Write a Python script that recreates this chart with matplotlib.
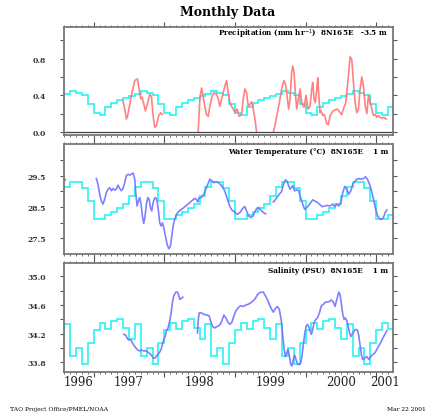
import numpy as np
import matplotlib
matplotlib.use("Agg")
import matplotlib.pyplot as plt
from matplotlib.ticker import MultipleLocator, FixedLocator

nan = float("nan")

# --- monthly climatologies (Jan..Dec), repeated every year ---
precip_clim = [0.21, 0.18, 0.27, 0.32, 0.35, 0.37, 0.39, 0.41, 0.45, 0.43, 0.40, 0.31]
temp_clim = [28.12, 28.12, 28.23, 28.34, 28.45, 28.60, 28.85, 29.14, 29.29, 29.30, 29.10, 28.70]
salt_clim = [34.25, 34.35, 34.27, 34.38, 34.41, 34.28, 34.12, 34.33, 33.89, 34.00, 33.78, 34.07]

# --- observed precipitation (mm/hr), decimal years ---
precip_t = [1997.416, 1997.440, 1997.464, 1997.482, 1997.511, 1997.543, 1997.582, 1997.620,
            1997.643, 1997.667, 1997.685, 1997.709, 1997.733, 1997.762, 1997.794, 1997.818,
            1997.841, 1997.865, 1997.889, 1997.922, 1997.950, 1997.969, nan,
            1998.480, 1998.504, 1998.528, 1998.551, 1998.574, 1998.598, 1998.622, 1998.645,
            1998.678, 1998.707, 1998.740, 1998.764, 1998.787, 1998.811, 1998.835, 1998.858,
            1998.882, 1998.905, 1998.929, 1998.953, 1998.976, 1999.000, 1999.033, 1999.061,
            1999.095, 1999.118, 1999.142, 1999.165, 1999.189, 1999.213, 1999.236, 1999.260,
            1999.284, 1999.307, nan,
            1999.544, 1999.567, 1999.591, 1999.629, 1999.662, 1999.695, 1999.723, 1999.742,
            1999.761, 1999.780, 1999.804, 1999.818, 1999.837, 1999.856, 1999.875, 1999.898,
            1999.922, 1999.946, 1999.979, 2000.007, 2000.035, 2000.064, 2000.088, 2000.102,
            2000.121, 2000.139, 2000.159, 2000.173, 2000.191, 2000.206, 2000.220, 2000.244,
            2000.267, 2000.301, 2000.323, 2000.348, 2000.372, 2000.394, 2000.443, 2000.465,
            2000.489, 2000.513, 2000.536, 2000.570, 2000.607, 2000.631, 2000.655, 2000.678,
            2000.702, 2000.726, 2000.749, 2000.773, 2000.797, 2000.820, 2000.844, 2000.868,
            2000.891, 2000.915, 2000.939, 2000.962, 2000.986, 2001.010, 2001.033, 2001.057,
            2001.081, 2001.110, 2001.140]
precip_v = [0.34, 0.25, 0.14, 0.18, 0.30, 0.43, 0.56, 0.58,
            0.47, 0.36, 0.38, 0.31, 0.23, 0.31, 0.41, 0.39,
            0.18, 0.05, 0.07, 0.18, 0.21, 0.19, nan,
            0.00, 0.36, 0.48, 0.39, 0.28, 0.19, 0.17, 0.28,
            0.39, 0.43, 0.41, 0.36, 0.28, 0.36, 0.43, 0.50,
            0.56, 0.43, 0.32, 0.28, 0.25, 0.21, 0.25, 0.17,
            0.19, 0.36, 0.47, 0.43, 0.28, 0.30, 0.33, 0.25,
            0.14, 0.00, nan,
            0.00, 0.07, 0.17, 0.32, 0.47, 0.56, 0.50, 0.36,
            0.25, 0.36, 0.65, 0.72, 0.65, 0.43, 0.25, 0.36,
            0.47, 0.32, 0.27, 0.40, 0.25, 0.28, 0.47, 0.54,
            0.36, 0.32, 0.47, 0.59, 0.36, 0.21, 0.23, 0.18,
            0.19, 0.09, 0.08, 0.18, 0.21, 0.23, 0.25, 0.24,
            0.21, 0.19, 0.25, 0.32, 0.61, 0.82, 0.79, 0.54,
            0.32, 0.21, 0.25, 0.47, 0.60, 0.50, 0.29, 0.20,
            0.40, 0.33, 0.25, 0.18, 0.19, 0.16, 0.18, 0.16,
            0.15, 0.16, 0.14]

# --- observed water temperature (deg C) ---
temp_t = [1996.585, 1996.600, nan,
          1997.038, 1997.061, 1997.085, 1997.109, 1997.132, 1997.156, 1997.180, 1997.203,
          1997.227, 1997.251, 1997.274, 1997.298, 1997.322, 1997.345, 1997.369, 1997.392,
          1997.416, 1997.440, 1997.463, 1997.487, 1997.511, 1997.534, 1997.558, 1997.582,
          1997.596, 1997.615, 1997.634, 1997.652, 1997.671, 1997.690, 1997.709, 1997.728,
          1997.747, 1997.766, 1997.785, 1997.804, 1997.823, 1997.842, 1997.861, 1997.879,
          1997.898, 1997.917, 1997.936, 1997.955, 1997.974, 1997.993, 1998.017, 1998.040,
          1998.064, 1998.087, 1998.106, 1998.125, 1998.149, 1998.173, 1998.210, 1998.243,
          1998.277, 1998.314, 1998.352, 1998.385, 1998.418, 1998.447, 1998.475, 1998.494,
          1998.527, 1998.560, 1998.589, 1998.617, 1998.645, 1998.674, 1998.702, 1998.740,
          1998.778, 1998.811, 1998.844, 1998.872, 1998.901, 1998.929, 1998.957, 1998.995,
          1999.033, 1999.071, 1999.109, 1999.142, 1999.165, 1999.194, 1999.222, 1999.251,
          1999.279, 1999.307, 1999.336, 1999.364, 1999.402, 1999.435, nan,
          1999.544, 1999.572, 1999.600, 1999.629, 1999.657, 1999.676, 1999.695, 1999.719,
          1999.742, 1999.761, 1999.780, 1999.799, 1999.818, 1999.846, 1999.875, 1999.903,
          1999.931, 1999.960, 1999.988, 2000.017, 2000.045, 2000.073, 2000.102, 2000.130,
          2000.158, 2000.196, 2000.234, 2000.272, 2000.310, 2000.348, 2000.385, 2000.414,
          2000.442, 2000.470, 2000.499, 2000.527, 2000.556, 2000.584, 2000.612, 2000.641,
          2000.669, 2000.697, 2000.726, 2000.754, 2000.783, 2000.820, 2000.849, 2000.877,
          2000.905, 2000.934, 2000.962, 2000.991, 2001.019, 2001.047, 2001.076, 2001.104,
          2001.128, 2001.151]
temp_v = [29.40, 29.37, nan,
          29.41, 29.23, 28.91, 28.69, 28.59, 28.75, 28.96, 29.07,
          29.12, 29.02, 29.09, 29.04, 29.07, 29.20, 29.09, 29.02,
          29.09, 29.28, 29.50, 29.55, 29.52, 29.55, 29.59, 29.39,
          28.96, 28.53, 28.69, 28.80, 28.59, 28.21, 27.97, 28.21,
          28.59, 28.80, 28.75, 28.48, 28.37, 28.64, 28.77, 28.80,
          28.69, 28.37, 27.99, 27.89, 27.99, 27.83, 27.56, 27.30,
          27.16, 27.24, 27.56, 27.89, 28.12, 28.26, 28.37, 28.42,
          28.48, 28.55, 28.62, 28.69, 28.75, 28.77, 28.66, 28.80,
          28.80, 28.91, 29.07, 29.23, 29.39, 29.34, 29.28, 29.31,
          29.26, 29.18, 29.07, 28.91, 28.69, 28.51, 28.40, 28.34,
          28.26, 28.32, 28.45, 28.51, 28.37, 28.21, 28.16, 28.19,
          28.32, 28.45, 28.48, 28.40, 28.32, 28.28, nan,
          28.66, 28.73, 28.82, 28.91, 28.98, 29.12, 29.28, 29.37,
          29.31, 29.18, 29.07, 29.12, 29.18, 29.02, 29.05, 29.02,
          28.80, 28.59, 28.42, 28.48, 28.55, 28.64, 28.73, 28.69,
          28.66, 28.59, 28.51, 28.53, 28.55, 28.53, 28.59, 28.51,
          28.59, 28.53, 28.64, 28.96, 29.16, 29.07, 28.91, 29.02,
          29.23, 29.31, 29.39, 29.41, 29.39, 29.41, 29.47, 29.39,
          29.23, 29.02, 28.75, 28.45, 28.23, 28.12, 28.10, 28.16,
          28.32, 28.40]

# --- observed salinity (PSU) ---
salt_t = [1997.426, 1997.454, 1997.478, 1997.501, 1997.525, 1997.548, 1997.582, 1997.615,
          1997.643, 1997.676, 1997.709, 1997.747, 1997.785, 1997.818, 1997.842, 1997.870,
          1997.898, 1997.927, 1997.955, 1997.974, 1997.993, 1998.012, 1998.031, 1998.054,
          1998.078, 1998.097, 1998.116, 1998.135, 1998.163, 1998.187, 1998.206, 1998.220,
          1998.239, 1998.262, nan,
          1998.470, 1998.480, 1998.494, 1998.527, 1998.560, 1998.598, 1998.636, 1998.655,
          1998.683, 1998.716, 1998.749, 1998.787, 1998.816, 1998.844, 1998.872, 1998.901,
          1998.929, 1998.957, 1998.986, 1999.014, 1999.047, 1999.080, 1999.118, 1999.156,
          1999.189, 1999.222, 1999.260, 1999.288, 1999.317, 1999.345, 1999.374, 1999.402,
          1999.430, 1999.459, 1999.487, 1999.515, 1999.544, 1999.572, 1999.600, 1999.629,
          1999.657, 1999.676, 1999.695, 1999.714, 1999.733, 1999.752, 1999.771, 1999.790,
          1999.809, 1999.827, 1999.846, 1999.865, 1999.889, 1999.913, 1999.931, 1999.950,
          1999.969, 1999.988, 2000.007, 2000.026, 2000.045, 2000.064, 2000.083, 2000.102,
          2000.121, 2000.139, 2000.168, 2000.196, 2000.225, 2000.253, 2000.281, 2000.310,
          2000.338, 2000.366, 2000.395, 2000.418, 2000.433, 2000.452, 2000.470, 2000.489,
          2000.508, 2000.527, 2000.546, 2000.565, 2000.584, 2000.603, 2000.622, 2000.641,
          2000.660, 2000.678, 2000.707, 2000.735, 2000.754, 2000.773, 2000.792, 2000.811,
          2000.839, 2000.868, 2000.896, 2000.924, 2000.953, 2000.981, 2001.009, 2001.038,
          2001.066, 2001.095, 2001.123, 2001.151]
salt_v = [34.19, 34.18, 34.13, 34.11, 34.12, 34.07, 34.02, 33.98,
          33.96, 33.97, 33.96, 33.96, 33.93, 33.90, 33.86, 33.86,
          33.90, 33.93, 33.98, 34.05, 34.12, 34.16, 34.24, 34.28,
          34.38, 34.49, 34.64, 34.73, 34.78, 34.78, 34.73, 34.68,
          34.69, 34.71, nan,
          34.21, 34.38, 34.49, 34.49, 34.47, 34.46, 34.45, 34.38,
          34.30, 34.28, 34.30, 34.32, 34.38, 34.46, 34.42, 34.36,
          34.33, 34.36, 34.45, 34.52, 34.56, 34.59, 34.58, 34.60,
          34.61, 34.63, 34.66, 34.69, 34.74, 34.77, 34.78, 34.78,
          34.73, 34.68, 34.61, 34.55, 34.50, 34.55, 34.58, 34.54,
          34.38, 34.19, 34.00, 33.88, 33.93, 33.98, 33.89, 33.77,
          33.75, 33.84, 33.90, 33.84, 33.77, 33.77, 33.79, 33.89,
          34.05, 34.19, 34.30, 34.33, 34.30, 34.24, 34.19, 34.26,
          34.35, 34.39, 34.42, 34.49, 34.59, 34.61, 34.64, 34.64,
          34.65, 34.67, 34.64, 34.58, 34.64, 34.71, 34.78, 34.75,
          34.61, 34.47, 34.40, 34.42, 34.38, 34.31, 34.22, 34.16,
          34.19, 34.22, 34.26, 34.25, 34.17, 34.03, 33.90, 33.84,
          33.86, 33.88, 33.84, 33.88, 33.91, 33.93, 33.98, 34.03,
          34.08, 34.14, 34.19, 34.24]

labels = ["Precipitation (mm hr$^{-1}$)  8N165E   -3.5 m",
          "Water Temperature (\u00b0C)  8N165E    1 m",
          "Salinity (PSU)  8N165E    1 m"]
years = [1996, 1997, 1998, 1999, 2000, 2001]
ymajor = [[0.0, 0.4, 0.8], [27.5, 28.5, 29.5], [33.8, 34.2, 34.6, 35.0]]
yminor = [[0.2, 0.6, 1.0], [28.0, 29.0, 30.0], [34.0, 34.4, 34.8]]
xmin, xmax = 1996.58, 2001.24

CYAN = "#2af2f2"
RED = "#ff7474"
BLUE = "#7272ff"
SERIF = "DejaVu Serif"

fig = plt.figure(figsize=(4.28, 4.14), dpi=100)
fig.text(0.533, 0.970, "Monthly Data", ha="center", va="center",
         fontsize=9, fontweight="bold", family=SERIF)

# panel boxes in figure fraction [left, bottom, width, height]
boxes = [[0.1495, 0.6715, 0.769, 0.2609],
         [0.1495, 0.3841, 0.769, 0.2657],
         [0.1495, 0.0990, 0.769, 0.2633]]
ylims = [(-0.033, 1.145), (26.99, 30.52), (33.665, 35.186)]

# monthly edges from Jul 1996 to May 2001
edges = 1996.5 + np.arange(0, 12 * 5 - 1) / 12.0
clims = [precip_clim, temp_clim, salt_clim]
obs = [(precip_t, precip_v, RED), (temp_t, temp_v, BLUE), (salt_t, salt_v, BLUE)]

axes = []
for i in range(3):
    ax = fig.add_axes(boxes[i])
    axes.append(ax)
    clim_vals = np.tile(clims[i], 6)[6:6 + len(edges) - 1]
    ax.stairs(clim_vals, edges, color=CYAN, lw=1.2, baseline=None)
    t, v, c = obs[i]
    ax.plot(t, v, color=c, lw=1.2, alpha=0.9)
    if i == 0:
        ax.axhline(0.0, color="#444444", lw=0.9)
    ax.set_xlim(xmin, xmax)
    ax.set_ylim(*ylims[i])

    ax.xaxis.set_major_locator(MultipleLocator(1.0))
    ax.xaxis.set_minor_locator(MultipleLocator(1 / 12.0))
    ax.yaxis.set_major_locator(FixedLocator(ymajor[i]))
    ax.yaxis.set_minor_locator(FixedLocator(yminor[i]))
    ax.yaxis.set_major_formatter(plt.FormatStrFormatter("%.1f"))
    ax.tick_params(axis="x", which="both", top=True, bottom=True,
                   labelbottom=False, direction="out", color="#555555")
    ax.tick_params(axis="x", which="major", length=3.5, width=0.8)
    ax.tick_params(axis="x", which="minor", length=1.5, width=0.6)
    ax.tick_params(axis="y", which="both", left=True, right=True,
                   direction="out", color="#555555", width=0.8)
    ax.tick_params(axis="y", which="major", length=3, pad=10,
                   labelsize=5.5, labelcolor="#333333")
    ax.tick_params(axis="y", which="minor", length=3)
    for lab in ax.get_yticklabels():
        lab.set_fontfamily(SERIF)
        lab.set_fontweight("bold")
    for s in ax.spines.values():
        s.set_color("#777777")
        s.set_linewidth(1.3)
    ax.text(0.985, 0.94, labels[i], transform=ax.transAxes, ha="right", va="center",
            fontsize=5.2, fontweight="bold", family=SERIF)

# year labels centred on the visible part of each year
ax = axes[2]
for y in years:
    lo, hi = max(y, xmin), min(y + 1, xmax)
    ax.text((lo + hi) / 2, -0.09, str(y), transform=ax.get_xaxis_transform(),
            ha="center", va="center", fontsize=8.5, family=SERIF, color="#222222")

fig.text(0.023, 0.012, "TAO Project Office/PMEL/NOAA", ha="left", va="center",
         fontsize=4.3, family=SERIF)
fig.text(0.904, 0.012, "Mar 22 2001", ha="left", va="center",
         fontsize=4.3, family=SERIF)

fig.savefig("out.png", dpi=100)
